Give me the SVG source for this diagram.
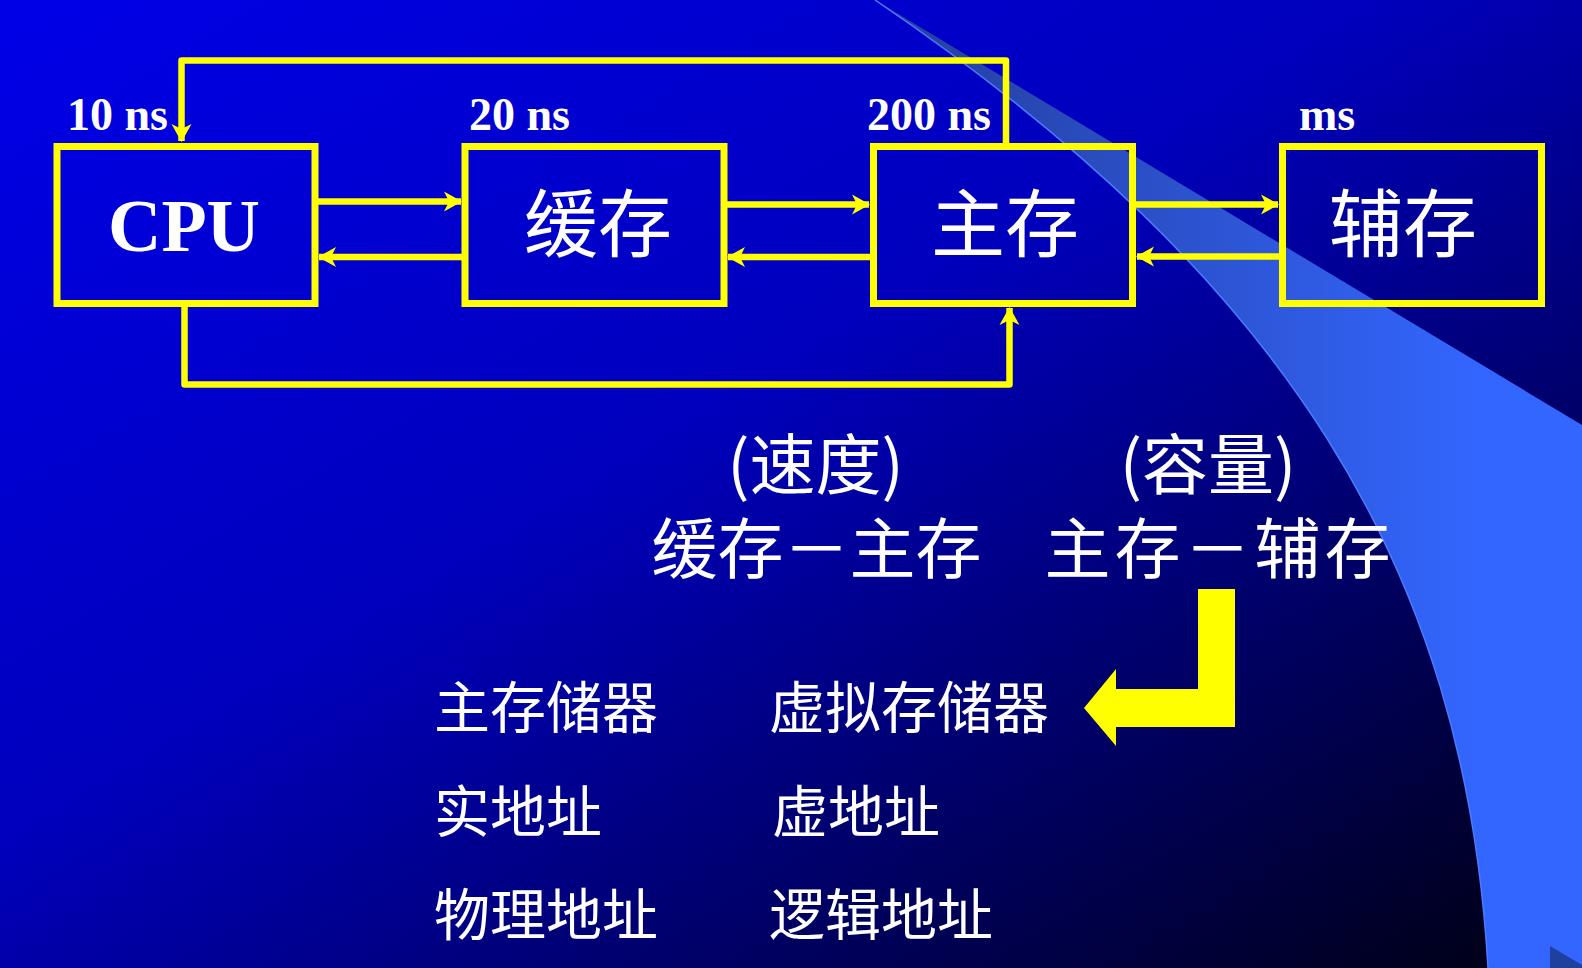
<svg xmlns="http://www.w3.org/2000/svg" width="1582" height="968" viewBox="0 0 1582 968">
<defs>
<linearGradient id="bg" x1="0" y1="0" x2="1" y2="1">
<stop offset="0" stop-color="#0000E8"/>
<stop offset="0.44" stop-color="#0000BC"/>
<stop offset="1" stop-color="#000010"/>
</linearGradient>
<linearGradient id="sweep" gradientUnits="userSpaceOnUse" x1="950" y1="0" x2="1480" y2="0">
<stop offset="0" stop-color="#2642A6"/>
<stop offset="1" stop-color="#3366FF"/>
</linearGradient>
<marker id="ah" viewBox="-20 -11 22 22" markerWidth="22" markerHeight="22" refX="0" refY="0" orient="auto" markerUnits="userSpaceOnUse">
<path d="M1,0 L-17,-10 L-12,0 L-17,10 Z" fill="#FFFF00"/>
</marker>
<style>
.box{fill:none;stroke:#FFFF00;stroke-width:7}
.con{fill:none;stroke:#FFFF00;stroke-width:6.5;stroke-linejoin:round}
.lat{font-family:"Liberation Serif","Times New Roman",serif;font-weight:bold;fill:#FFFFFF}
.cjk{font-family:"Noto Sans CJK SC","Noto Sans",sans-serif;fill:#FFFFFF}
</style>
</defs>
<rect x="0" y="0" width="1582" height="968" fill="url(#bg)"/>
<g id="background-sweep">
<path d="M875,0 L1582,425 L1582,968 L1488,968 C1465,568 1287,280 875,0 Z" fill="url(#sweep)"/>
<path d="M875,0 C1287,280 1465,568 1488,968" fill="none" stroke="#4A7CFF" stroke-width="1.5"/>
<path d="M1550,946 L1582,965 L1582,968 L1550,968 Z" fill="#2040A0"/>
</g>
<g id="connectors">
<path class="con" d="M318,201.5 H461" marker-end="url(#ah)"/>
<path class="con" d="M462,257 H319" marker-end="url(#ah)"/>
<path class="con" d="M727,204.5 H869" marker-end="url(#ah)"/>
<path class="con" d="M870,257 H728" marker-end="url(#ah)"/>
<path class="con" d="M1136,204.5 H1278" marker-end="url(#ah)"/>
<path class="con" d="M1279,256.5 H1137" marker-end="url(#ah)"/>
<path class="con" d="M1006,143 V60.5 H181.5 V141" marker-end="url(#ah)"/>
<path class="con" d="M184.5,307 V384.5 H1009.5 V308" marker-end="url(#ah)"/>
</g>
<g id="cpu">
<rect class="box" x="57" y="146.5" width="258" height="157"/>
<text class="lat" x="184" y="251" font-size="74" text-anchor="middle">CPU</text>
<text class="lat" x="67" y="130" font-size="46">10 ns</text>
</g>
<g id="cache">
<rect class="box" x="465" y="146.5" width="259" height="157"/>
<text class="cjk" x="598" y="251" font-size="74" text-anchor="middle">缓存</text>
<text class="lat" x="469" y="130" font-size="46">20 ns</text>
</g>
<g id="main-memory">
<rect class="box" x="873.5" y="146.5" width="259" height="157"/>
<text class="cjk" x="1005" y="251" font-size="74" text-anchor="middle">主存</text>
<text class="lat" x="867" y="130" font-size="46">200 ns</text>
</g>
<g id="aux-memory">
<rect class="box" x="1282.5" y="146.5" width="259" height="157"/>
<text class="cjk" x="1403" y="251" font-size="74" text-anchor="middle">辅存</text>
<text class="lat" x="1299" y="130" font-size="46">ms</text>
</g>
<g id="hierarchy-labels">
<text class="cjk" x="815.5" y="489" font-size="66" text-anchor="middle">(速度)</text>
<text class="cjk" x="1208" y="489" font-size="66" text-anchor="middle">(容量)</text>
<text class="cjk" x="816.5" y="573" font-size="66" text-anchor="middle">缓存－主存</text>
<text class="cjk" x="1219.5" y="573" font-size="66" text-anchor="middle" letter-spacing="4">主存－辅存</text>
</g>
<g id="big-arrow">
<polygon points="1198,589 1235,589 1235,727 1116,727 1116,746 1084,708 1116,669 1116,689 1198,689" fill="#FFFF00"/>
</g>
<g id="terms">
<text class="cjk" x="434" y="728" font-size="56">主存储器</text>
<text class="cjk" x="769" y="728" font-size="56">虚拟存储器</text>
<text class="cjk" x="434" y="832" font-size="56">实地址</text>
<text class="cjk" x="772" y="832" font-size="56">虚地址</text>
<text class="cjk" x="434" y="935" font-size="56">物理地址</text>
<text class="cjk" x="769" y="935" font-size="56">逻辑地址</text>
</g>
</svg>
